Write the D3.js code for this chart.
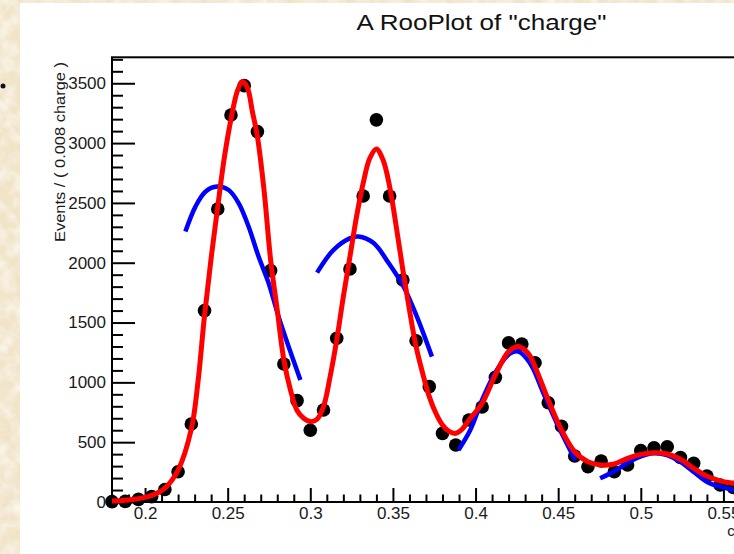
<!DOCTYPE html>
<html>
<head>
<meta charset="utf-8">
<script src="https://cdn.jsdelivr.net/npm/d3@7"></script>
<style>
  html, body { margin: 0; padding: 0; background: #fff; }
  svg { display: block; }
  text { font-family: "Liberation Sans", Arial, Helvetica, sans-serif; }
</style>
</head>
<body>
<svg id="chart" width="734" height="554"></svg>
<script>
// Binned data: bin centres (charge) and event counts per 0.008 bin
const binCenters = [0.180, 0.188, 0.196, 0.204, 0.212, 0.220, 0.228, 0.236, 0.244, 0.252,
                    0.260, 0.268, 0.276, 0.284, 0.292, 0.300, 0.308, 0.316, 0.324, 0.332,
                    0.340, 0.348, 0.356, 0.364, 0.372, 0.380, 0.388, 0.396, 0.404, 0.412,
                    0.420, 0.428, 0.436, 0.444, 0.452, 0.460, 0.468, 0.476, 0.484, 0.492,
                    0.500, 0.508, 0.516, 0.524, 0.532, 0.540, 0.548, 0.556];
const events = [3, 5, 22, 45, 105, 253, 652, 1600, 2449, 3235,
                3480, 3096, 1934, 1154, 847, 600, 769, 1369, 1948, 2558,
                3194, 2558, 1856, 1348, 964, 574, 476, 685, 794, 1042,
                1330, 1320, 1164, 830, 633, 385, 295, 343, 253, 309,
                430, 453, 462, 372, 323, 217, 142, 121];

// Full model curve (red)
const modelX = [0.180, 0.188, 0.196, 0.204, 0.212, 0.220, 0.228, 0.232, 0.236, 0.240,
                0.244, 0.248, 0.252, 0.256, 0.259, 0.262, 0.265, 0.268, 0.272, 0.276,
                0.280, 0.284, 0.288, 0.292, 0.296, 0.300, 0.304, 0.308, 0.312, 0.316,
                0.320, 0.324, 0.328, 0.332, 0.336, 0.340, 0.344, 0.348, 0.352, 0.356,
                0.360, 0.364, 0.368, 0.372, 0.376, 0.380, 0.384, 0.388, 0.392, 0.396,
                0.404, 0.412, 0.420, 0.426, 0.432, 0.436, 0.444, 0.452, 0.460, 0.468,
                0.476, 0.484, 0.492, 0.500, 0.508, 0.516, 0.524, 0.532, 0.540, 0.548,
                0.556, 0.564, 0.572, 0.580];
const modelY = [8, 14, 28, 55, 117, 267, 610, 1000, 1560, 2040,
                2470, 2880, 3200, 3440, 3515, 3460, 3260, 3054, 2608, 2023,
                1605, 1187, 936, 765, 700, 672, 690, 797, 1048, 1355,
                1717, 2051, 2386, 2665, 2873, 2950, 2860, 2637, 2303, 1941,
                1606, 1299, 1076, 881, 742, 644, 590, 574, 610, 686,
                825, 1062, 1257, 1300, 1240, 1131, 853, 602, 420, 337,
                309, 318, 365, 398, 412, 401, 357, 282, 217, 176,
                156, 140, 125, 115];

// Single-peak fits over restricted ranges (blue)
const fit1X = [0.2244, 0.2305, 0.2365, 0.2436, 0.2506, 0.2567, 0.2627, 0.2687, 0.2748, 0.2808, 0.2869, 0.2940];
const fit1Y = [2260, 2469, 2594, 2637, 2608, 2497, 2301, 2051, 1829, 1549, 1298, 1020];
const fit2X = [0.3041, 0.3141, 0.3242, 0.3292, 0.3383, 0.3474, 0.3564, 0.3645, 0.3736];
const fit2Y = [1917, 2108, 2206, 2219, 2164, 1997, 1801, 1549, 1215];
const fit3X = [0.3897, 0.3968, 0.4048, 0.4129, 0.4210, 0.4260, 0.4330, 0.4411, 0.4492, 0.4562, 0.4603];
const fit3Y = [435, 602, 880, 1104, 1243, 1257, 1160, 909, 658, 462, 351];
const fit4X = [0.4754, 0.4834, 0.4915, 0.4996, 0.5076, 0.5157, 0.5238, 0.5318, 0.5399, 0.5479, 0.5564];
const fit4Y = [198, 253, 323, 379, 407, 393, 337, 253, 170, 128, 100];

// Axis ticks
const xMajorTicks = [0.2, 0.25, 0.3, 0.35, 0.4, 0.45, 0.5, 0.55];
const xMajorLabels = ["0.2", "0.25", "0.3", "0.35", "0.4", "0.45", "0.5", "0.55"];
const yMajorTicks = [0, 500, 1000, 1500, 2000, 2500, 3000, 3500];
const yMajorLabels = ["0", "500", "1000", "1500", "2000", "2500", "3000", "3500"];

const xDomain = [0.18, 0.58];
const yDomain = [0, 3717];

const svg = d3.select("#chart");
const W = 734, H = 554;

// Parchment backdrop with a soft mottled texture
const defs = svg.append("defs");
const f = defs.append("filter").attr("id", "paper").attr("x", 0).attr("y", 0).attr("width", 1).attr("height", 1);
f.append("feTurbulence").attr("type", "fractalNoise").attr("baseFrequency", "0.07").attr("numOctaves", 4).attr("seed", 7);
f.append("feColorMatrix").attr("type", "matrix")
  .attr("values", "0 0 0 0 1  0 0 0 0 0.98  0 0 0 0 0.94  1.5 0 0 0 -0.55");
const f2 = defs.append("filter").attr("id", "paperDark").attr("x", 0).attr("y", 0).attr("width", 1).attr("height", 1);
f2.append("feTurbulence").attr("type", "fractalNoise").attr("baseFrequency", "0.12").attr("numOctaves", 3).attr("seed", 19);
f2.append("feColorMatrix").attr("type", "matrix")
  .attr("values", "0 0 0 0 0.82  0 0 0 0 0.72  0 0 0 0 0.55  1.1 0 0 0 -0.55");

svg.append("rect").attr("width", W).attr("height", H).attr("fill", "#f1e4c9");
svg.append("rect").attr("width", W).attr("height", H).attr("filter", "url(#paperDark)");
svg.append("rect").attr("width", W).attr("height", H).attr("filter", "url(#paper)");
svg.append("circle").attr("cx", 3).attr("cy", 86).attr("r", 2.5).attr("fill", "#111");

// White canvas
svg.append("rect").attr("x", 20).attr("y", 3).attr("width", W - 20).attr("height", H - 3).attr("fill", "#fff");

// Frame geometry
const frameL = 112, frameR = 773, frameT = 57.3, frameB = 502;

const x = d3.scaleLinear().domain(xDomain).range([frameL, frameR]);
const y = d3.scaleLinear().domain(yDomain).range([frameB, frameT]);

// Title
svg.append("text")
  .attr("x", 481.5).attr("y", 29.5)
  .attr("text-anchor", "middle")
  .attr("font-size", 22)
  .attr("textLength", 250).attr("lengthAdjust", "spacingAndGlyphs")
  .attr("fill", "#111")
  .text('A RooPlot of "charge"');

// Frame
svg.append("rect")
  .attr("x", frameL).attr("y", frameT)
  .attr("width", frameR - frameL).attr("height", frameB - frameT)
  .attr("fill", "none").attr("stroke", "#000").attr("stroke-width", 2);

// Y axis: major and minor ticks pointing into the frame
const yMinor = d3.range(0, 3701, 100).filter(v => v % 500 !== 0);
svg.append("g").attr("transform", `translate(${frameL},0)`)
  .call(d3.axisLeft(y).tickValues(yMinor).tickSizeInner(-11).tickSizeOuter(0).tickFormat(""))
  .call(g => g.select(".domain").remove())
  .call(g => g.selectAll("line").attr("stroke", "#000").attr("stroke-width", 2));
svg.append("g").attr("transform", `translate(${frameL},0)`)
  .call(d3.axisLeft(y).tickValues(yMajorTicks).tickSizeInner(-23).tickSizeOuter(0).tickPadding(6)
        .tickFormat((d, i) => yMajorLabels[i]))
  .call(g => g.select(".domain").remove())
  .call(g => g.selectAll("line").attr("stroke", "#000").attr("stroke-width", 2))
  .call(g => g.selectAll("text").attr("font-size", 17).attr("fill", "#1a1a1a")
        .attr("font-family", '"Liberation Sans", Arial, Helvetica, sans-serif'));

// X axis
const xMinor = d3.range(18, 59).map(v => v / 100).filter(v => Math.round(v * 100) % 5 !== 0);
svg.append("g").attr("transform", `translate(0,${frameB})`)
  .call(d3.axisBottom(x).tickValues(xMinor).tickSizeInner(-7.5).tickSizeOuter(0).tickFormat(""))
  .call(g => g.select(".domain").remove())
  .call(g => g.selectAll("line").attr("stroke", "#000").attr("stroke-width", 2));
svg.append("g").attr("transform", `translate(0,${frameB})`)
  .call(d3.axisBottom(x).tickValues(xMajorTicks).tickSizeInner(-14).tickSizeOuter(0).tickPadding(5)
        .tickFormat((d, i) => xMajorLabels[i]))
  .call(g => g.select(".domain").remove())
  .call(g => g.selectAll("line").attr("stroke", "#000").attr("stroke-width", 2))
  .call(g => g.selectAll("text").attr("font-size", 17).attr("fill", "#1a1a1a")
        .attr("font-family", '"Liberation Sans", Arial, Helvetica, sans-serif'));

// Axis titles
svg.append("text")
  .attr("transform", "translate(65,62) rotate(-90)")
  .attr("text-anchor", "end")
  .attr("font-size", 15.5)
  .attr("textLength", 180).attr("lengthAdjust", "spacingAndGlyphs")
  .attr("fill", "#1a1a1a")
  .text("Events / ( 0.008 charge )");
svg.append("text")
  .attr("x", frameR).attr("y", 536)
  .attr("text-anchor", "end")
  .attr("font-size", 15)
  .attr("fill", "#1a1a1a")
  .text("charge");

// Data points
svg.append("g").selectAll("circle")
  .data(binCenters.map((c, i) => [c, events[i]]))
  .join("circle")
  .attr("cx", d => x(d[0])).attr("cy", d => y(d[1]))
  .attr("r", 6.8).attr("fill", "#000");

// Curves
const line = d3.line().x(d => x(d[0])).y(d => y(d[1])).curve(d3.curveCatmullRom.alpha(0.5));
const zip = (a, b) => a.map((v, i) => [v, b[i]]);

[[fit1X, fit1Y], [fit2X, fit2Y], [fit3X, fit3Y], [fit4X, fit4Y]].forEach(([fx, fy]) => {
  svg.append("path").datum(zip(fx, fy))
    .attr("d", line)
    .attr("fill", "none").attr("stroke", "#0000ff").attr("stroke-width", 4.5)
    .attr("stroke-linejoin", "round");
});

svg.append("path").datum(zip(modelX, modelY))
  .attr("d", line)
  .attr("fill", "none").attr("stroke", "#ff0000").attr("stroke-width", 5)
  .attr("stroke-linejoin", "round");
</script>
</body>
</html>
